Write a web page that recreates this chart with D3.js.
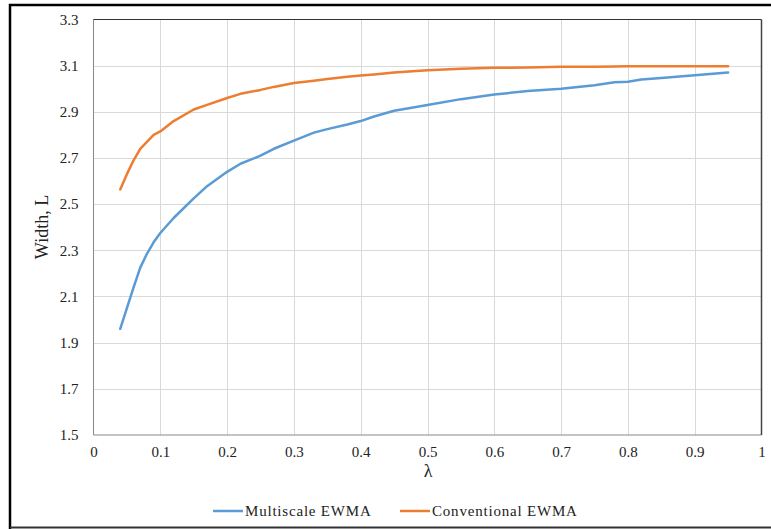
<!DOCTYPE html>
<html><head><meta charset="utf-8">
<script src="https://cdn.jsdelivr.net/npm/d3@7"></script>
<style>body{margin:0;background:#fff}</style>
</head><body>
<svg id="c" width="771" height="529"></svg>
<script>
const lambdas = [0.04,0.05,0.06,0.07,0.08,0.09,0.10,0.12,0.15,0.17,0.20,0.22,0.25,0.27,0.30,0.33,0.35,0.38,0.40,0.42,0.45,0.50,0.55,0.60,0.65,0.70,0.75,0.78,0.80,0.82,0.85,0.90,0.95];
const multiscale = [1.96,2.05,2.14,2.225,2.285,2.335,2.375,2.44,2.525,2.578,2.64,2.675,2.71,2.74,2.775,2.81,2.825,2.845,2.86,2.88,2.905,2.93,2.955,2.975,2.99,3.0,3.015,3.028,3.03,3.04,3.047,3.058,3.07];
const conventional = [2.564,2.63,2.69,2.74,2.77,2.80,2.815,2.86,2.91,2.93,2.96,2.978,2.995,3.008,3.025,3.035,3.042,3.052,3.057,3.062,3.07,3.08,3.087,3.091,3.092,3.095,3.095,3.096,3.097,3.097,3.097,3.098,3.098];
const xTicks = [0,0.1,0.2,0.3,0.4,0.5,0.6,0.7,0.8,0.9,1];
const yTicks = [1.5,1.7,1.9,2.1,2.3,2.5,2.7,2.9,3.1,3.3];
const seriesNames = ["Multiscale EWMA","Conventional EWMA"];
const colors = ["#5B9BD5","#ED7D31"];

const svg = d3.select("#c");
const L = 93.5, R = 761.5, T = 19.5, B = 435;
const x = d3.scaleLinear().domain([0,1]).range([L,R]);
const y = d3.scaleLinear().domain([1.5,3.3]).range([B,T]);
const font = "'Liberation Serif','Times New Roman',serif";

// outer frame
svg.append("path").attr("d","M10,529 L10,5 L771,5").attr("fill","none").attr("stroke","#000").attr("stroke-width",2.5);
svg.append("line").attr("x1",10).attr("x2",771).attr("y1",527.5).attr("y2",527.5).attr("stroke","#333").attr("stroke-width",2);

// gridlines
svg.append("g").selectAll("line").data(xTicks.slice(1,-1)).join("line")
  .attr("x1",d=>Math.round(x(d))+0.5).attr("x2",d=>Math.round(x(d))+0.5).attr("y1",T).attr("y2",B)
  .attr("stroke","#d9d9d9").attr("stroke-width",1);
svg.append("g").selectAll("line").data(yTicks.slice(1,-1)).join("line")
  .attr("y1",d=>Math.round(y(d))+0.5).attr("y2",d=>Math.round(y(d))+0.5).attr("x1",L).attr("x2",R)
  .attr("stroke","#d9d9d9").attr("stroke-width",1);

// plot frame
svg.append("line").attr("x1",L).attr("x2",L).attr("y1",T).attr("y2",B).attr("stroke","#888").attr("stroke-width",1);
svg.append("line").attr("x1",L).attr("x2",R).attr("y1",B).attr("y2",B).attr("stroke","#888").attr("stroke-width",1);
svg.append("line").attr("x1",L).attr("x2",R).attr("y1",T).attr("y2",T).attr("stroke","#333").attr("stroke-width",1);
svg.append("line").attr("x1",R).attr("x2",R).attr("y1",T).attr("y2",B).attr("stroke","#444").attr("stroke-width",1.5);

// axes labels (via d3 axes, domain/ticks hidden)
const xAxis = svg.append("g").attr("transform",`translate(0,${B})`)
  .call(d3.axisBottom(x).tickValues(xTicks).tickSize(0).tickPadding(11).tickFormat(d=>d3.format("")(d)));
xAxis.select(".domain").remove();
xAxis.selectAll("text").attr("font-family",font).attr("font-size",15).attr("fill","#222");

const yAxis = svg.append("g").attr("transform",`translate(${L},0)`)
  .call(d3.axisLeft(y).tickValues(yTicks).tickSize(0).tickPadding(15).tickFormat(d3.format(".1f")));
yAxis.select(".domain").remove();
yAxis.selectAll("text").attr("font-family",font).attr("font-size",15).attr("fill","#222");

svg.append("text").attr("x",428).attr("y",477).attr("text-anchor","middle")
  .attr("font-family",font).attr("font-size",18).attr("fill","#222").text("λ");
svg.append("text").attr("transform","translate(48,227) rotate(-90)").attr("text-anchor","middle")
  .attr("font-family",font).attr("font-size",18).attr("fill","#222").text("Width, L");

// lines
const series = [multiscale, conventional];
const line = d3.line().x((d,i)=>x(lambdas[i])).y(d=>y(d));
series.forEach((s,k)=>{
  svg.append("path").datum(s).attr("d",line).attr("fill","none")
    .attr("stroke",colors[k]).attr("stroke-width",2.5).attr("stroke-linejoin","round").attr("stroke-linecap","round");
});

// legend
const legX = [213,400];
seriesNames.forEach((n,k)=>{
  svg.append("line").attr("x1",legX[k]).attr("x2",legX[k]+30).attr("y1",511).attr("y2",511)
    .attr("stroke",colors[k]).attr("stroke-width",2.5);
  svg.append("text").attr("x",legX[k]+32).attr("y",516).attr("font-family",font).attr("font-size",15)
    .attr("letter-spacing",0.8).attr("fill","#222").text(n);
});
</script>
</body></html>
